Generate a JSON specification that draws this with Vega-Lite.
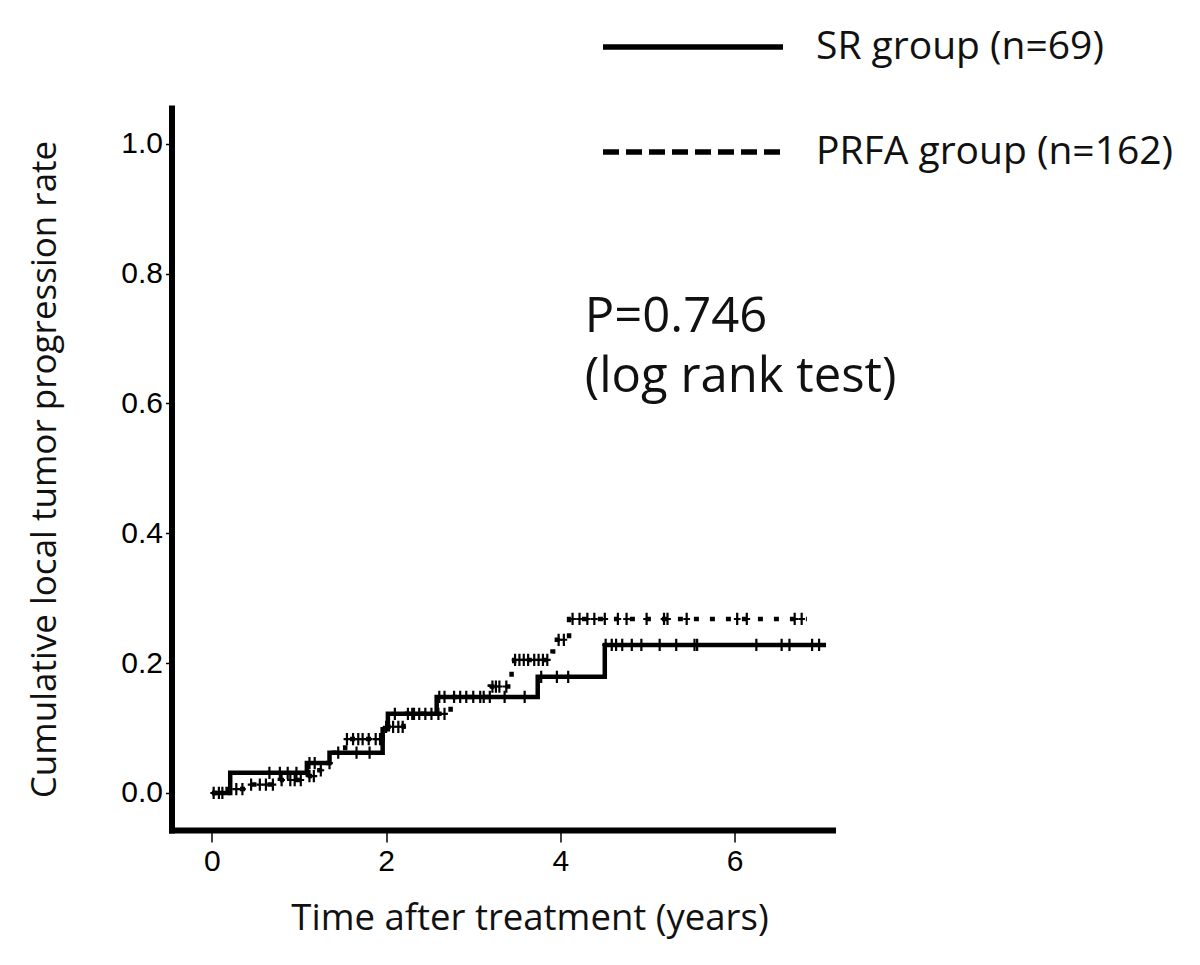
{
  "$schema": "https://vega.github.io/schema/vega-lite/v6.json",
  "width": 661,
  "height": 722,
  "autosize": {"type": "none"},
  "padding": {"left": 171.5, "top": 108, "right": 367.5, "bottom": 135},
  "background": "white",
  "config": {
    "view": {"stroke": null},
    "axis": {
      "grid": false,
      "domainColor": "black",
      "domainWidth": 6,
      "domainCap": "square",
      "tickColor": "black",
      "tickWidth": 1.5,
      "labelFont": "Liberation Sans",
      "labelFontSize": 30,
      "labelColor": "black",
      "titleFont": "Open Sans",
      "titleFontSize": 35,
      "titleFontWeight": "normal",
      "titleColor": "#111111"
    }
  },
  "resolve": {"scale": {"strokeDash": "independent"}, "legend": {"strokeDash": "independent"}},
  "datasets": {
    "curves": [
      {"group": "SR group (n=69)", "t": 0, "rate": 0},
      {"group": "SR group (n=69)", "t": 0.21, "rate": 0.031},
      {"group": "SR group (n=69)", "t": 1.09, "rate": 0.046},
      {"group": "SR group (n=69)", "t": 1.35, "rate": 0.062},
      {"group": "SR group (n=69)", "t": 1.96, "rate": 0.098},
      {"group": "SR group (n=69)", "t": 2.02, "rate": 0.122},
      {"group": "SR group (n=69)", "t": 2.58, "rate": 0.148},
      {"group": "SR group (n=69)", "t": 3.74, "rate": 0.179},
      {"group": "SR group (n=69)", "t": 4.51, "rate": 0.228},
      {"group": "SR group (n=69)", "t": 7.05, "rate": 0.228},
      {"group": "PRFA group (n=162)", "t": 0, "rate": 0},
      {"group": "PRFA group (n=162)", "t": 0.18, "rate": 0.006},
      {"group": "PRFA group (n=162)", "t": 0.4, "rate": 0.013},
      {"group": "PRFA group (n=162)", "t": 0.78, "rate": 0.02},
      {"group": "PRFA group (n=162)", "t": 1.1, "rate": 0.026},
      {"group": "PRFA group (n=162)", "t": 1.2, "rate": 0.035},
      {"group": "PRFA group (n=162)", "t": 1.3, "rate": 0.046},
      {"group": "PRFA group (n=162)", "t": 1.4, "rate": 0.062},
      {"group": "PRFA group (n=162)", "t": 1.53, "rate": 0.083},
      {"group": "PRFA group (n=162)", "t": 1.96, "rate": 0.102},
      {"group": "PRFA group (n=162)", "t": 2.2, "rate": 0.122},
      {"group": "PRFA group (n=162)", "t": 2.74, "rate": 0.148},
      {"group": "PRFA group (n=162)", "t": 3.19, "rate": 0.164},
      {"group": "PRFA group (n=162)", "t": 3.44, "rate": 0.187},
      {"group": "PRFA group (n=162)", "t": 3.47, "rate": 0.205},
      {"group": "PRFA group (n=162)", "t": 3.91, "rate": 0.218},
      {"group": "PRFA group (n=162)", "t": 3.96, "rate": 0.236},
      {"group": "PRFA group (n=162)", "t": 4.1, "rate": 0.268},
      {"group": "PRFA group (n=162)", "t": 6.83, "rate": 0.268}
    ],
    "censor": [
      {"t": 0.66, "rate": 0.031}, {"t": 0.78, "rate": 0.031}, {"t": 0.87, "rate": 0.031}, {"t": 0.97, "rate": 0.031},
      {"t": 1.12, "rate": 0.046}, {"t": 1.18, "rate": 0.046},
      {"t": 1.66, "rate": 0.062}, {"t": 1.81, "rate": 0.062},
      {"t": 2.1, "rate": 0.122}, {"t": 2.3, "rate": 0.122}, {"t": 2.45, "rate": 0.122},
      {"t": 2.61, "rate": 0.148}, {"t": 2.67, "rate": 0.148}, {"t": 3.19, "rate": 0.148}, {"t": 3.36, "rate": 0.148}, {"t": 3.59, "rate": 0.148},
      {"t": 3.78, "rate": 0.179}, {"t": 3.96, "rate": 0.179}, {"t": 4.09, "rate": 0.179},
      {"t": 4.52, "rate": 0.228}, {"t": 4.59, "rate": 0.228}, {"t": 4.64, "rate": 0.228}, {"t": 4.71, "rate": 0.228},
      {"t": 4.82, "rate": 0.228}, {"t": 4.93, "rate": 0.228}, {"t": 5.14, "rate": 0.228}, {"t": 5.33, "rate": 0.228},
      {"t": 5.54, "rate": 0.228}, {"t": 5.57, "rate": 0.228}, {"t": 6.25, "rate": 0.228}, {"t": 6.54, "rate": 0.228},
      {"t": 6.63, "rate": 0.228}, {"t": 6.89, "rate": 0.228}, {"t": 6.97, "rate": 0.228},
      {"t": 0.02, "rate": 0}, {"t": 0.08, "rate": 0}, {"t": 0.12, "rate": 0},
      {"t": 0.2, "rate": 0.006}, {"t": 0.28, "rate": 0.006}, {"t": 0.35, "rate": 0.006},
      {"t": 0.45, "rate": 0.013}, {"t": 0.55, "rate": 0.013}, {"t": 0.62, "rate": 0.013}, {"t": 0.7, "rate": 0.013},
      {"t": 0.8, "rate": 0.02}, {"t": 0.9, "rate": 0.02}, {"t": 0.95, "rate": 0.02}, {"t": 1.02, "rate": 0.02},
      {"t": 1.12, "rate": 0.026}, {"t": 1.17, "rate": 0.026},
      {"t": 1.25, "rate": 0.035}, {"t": 1.35, "rate": 0.046}, {"t": 1.45, "rate": 0.062},
      {"t": 1.55, "rate": 0.083}, {"t": 1.62, "rate": 0.083}, {"t": 1.68, "rate": 0.083}, {"t": 1.73, "rate": 0.083},
      {"t": 1.8, "rate": 0.083}, {"t": 1.88, "rate": 0.083}, {"t": 1.93, "rate": 0.083},
      {"t": 2.0, "rate": 0.102}, {"t": 2.08, "rate": 0.102}, {"t": 2.14, "rate": 0.102}, {"t": 2.19, "rate": 0.102},
      {"t": 2.25, "rate": 0.122}, {"t": 2.32, "rate": 0.122}, {"t": 2.38, "rate": 0.122}, {"t": 2.52, "rate": 0.122},
      {"t": 2.6, "rate": 0.122}, {"t": 2.67, "rate": 0.122},
      {"t": 2.78, "rate": 0.148}, {"t": 2.85, "rate": 0.148}, {"t": 2.92, "rate": 0.148}, {"t": 3.0, "rate": 0.148},
      {"t": 3.08, "rate": 0.148}, {"t": 3.12, "rate": 0.148},
      {"t": 3.22, "rate": 0.164}, {"t": 3.26, "rate": 0.164}, {"t": 3.3, "rate": 0.164}, {"t": 3.38, "rate": 0.164},
      {"t": 3.48, "rate": 0.205}, {"t": 3.53, "rate": 0.205}, {"t": 3.58, "rate": 0.205}, {"t": 3.63, "rate": 0.205},
      {"t": 3.7, "rate": 0.205}, {"t": 3.75, "rate": 0.205}, {"t": 3.8, "rate": 0.205}, {"t": 3.85, "rate": 0.205},
      {"t": 3.98, "rate": 0.236}, {"t": 4.04, "rate": 0.236},
      {"t": 4.14, "rate": 0.268}, {"t": 4.22, "rate": 0.268}, {"t": 4.31, "rate": 0.268}, {"t": 4.39, "rate": 0.268},
      {"t": 4.51, "rate": 0.268}, {"t": 4.66, "rate": 0.268}, {"t": 4.76, "rate": 0.268}, {"t": 4.99, "rate": 0.268},
      {"t": 5.19, "rate": 0.268}, {"t": 5.23, "rate": 0.268}, {"t": 5.45, "rate": 0.268}, {"t": 6.03, "rate": 0.268},
      {"t": 6.14, "rate": 0.268}, {"t": 6.69, "rate": 0.268}, {"t": 6.77, "rate": 0.268}
    ],
    "note": [
      {"t": 4.28, "rate": 0.71, "label": "P=0.746\n(log rank test)"}
    ]
  },
  "layer": [
    {
      "data": {"name": "curves"},
      "mark": {"type": "line", "interpolate": "step-after", "strokeWidth": 4.5, "color": "black"},
      "encoding": {
        "x": {
          "field": "t", "type": "quantitative",
          "scale": {"domain": [-0.464, 7.124], "nice": false, "zero": false},
          "axis": {
            "values": [0, 2, 4, 6],
            "format": "d",
            "tickSize": 12,
            "labelPadding": 4,
            "title": "Time after treatment (years)",
            "titleFontSize": 36.5,
            "titlePadding": 24,
            "titleX": 358
          }
        },
        "y": {
          "field": "rate", "type": "quantitative",
          "scale": {"domain": [-0.057, 1.055], "nice": false, "zero": false},
          "axis": {
            "values": [0, 0.2, 0.4, 0.6, 0.8, 1.0],
            "format": ".1f",
            "tickSize": 6,
            "labelPadding": 3,
            "title": "Cumulative local tumor progression rate",
            "titlePadding": 58
          }
        },
        "strokeDash": {
          "field": "group", "type": "nominal",
          "scale": {"domain": ["SR group (n=69)", "PRFA group (n=162)"], "range": [[1, 0], [5, 11]]},
          "legend": null
        }
      }
    },
    {
      "data": {"name": "curves"},
      "mark": {"type": "line", "interpolate": "step-after", "strokeWidth": 4.5, "color": "black", "opacity": 0},
      "encoding": {
        "x": {"field": "t", "type": "quantitative"},
        "y": {"field": "rate", "type": "quantitative"},
        "strokeDash": {
          "field": "group", "type": "nominal",
          "scale": {"domain": ["SR group (n=69)", "PRFA group (n=162)"], "range": [[1, 0], [16, 7]]},
          "legend": {
            "orient": "none",
            "legendX": 428.5,
            "legendY": -89,
            "title": null,
            "symbolType": "stroke",
            "symbolSize": 32400,
            "symbolStrokeWidth": 5.5,
            "symbolStrokeColor": "black",
            "symbolOpacity": 1,
            "labelFont": "Open Sans",
            "labelFontSize": 39,
            "labelColor": "#111111",
            "labelOffset": 30,
            "labelLimit": 600,
            "clipHeight": 56,
            "rowPadding": 49
          }
        }
      }
    },
    {
      "data": {"name": "censor"},
      "mark": {"type": "point", "shape": "M0,-1V1M-0.55,0H0.55", "filled": false, "stroke": "black", "strokeWidth": 2.2, "size": 150, "opacity": 1},
      "encoding": {
        "x": {"field": "t", "type": "quantitative"},
        "y": {"field": "rate", "type": "quantitative"}
      }
    },
    {
      "data": {"name": "note"},
      "mark": {"type": "text", "align": "left", "baseline": "alphabetic", "lineBreak": "\n", "font": "Open Sans", "fontSize": 49, "lineHeight": 60, "color": "#111111"},
      "encoding": {
        "x": {"field": "t", "type": "quantitative"},
        "y": {"field": "rate", "type": "quantitative"},
        "text": {"field": "label"}
      }
    }
  ]
}
